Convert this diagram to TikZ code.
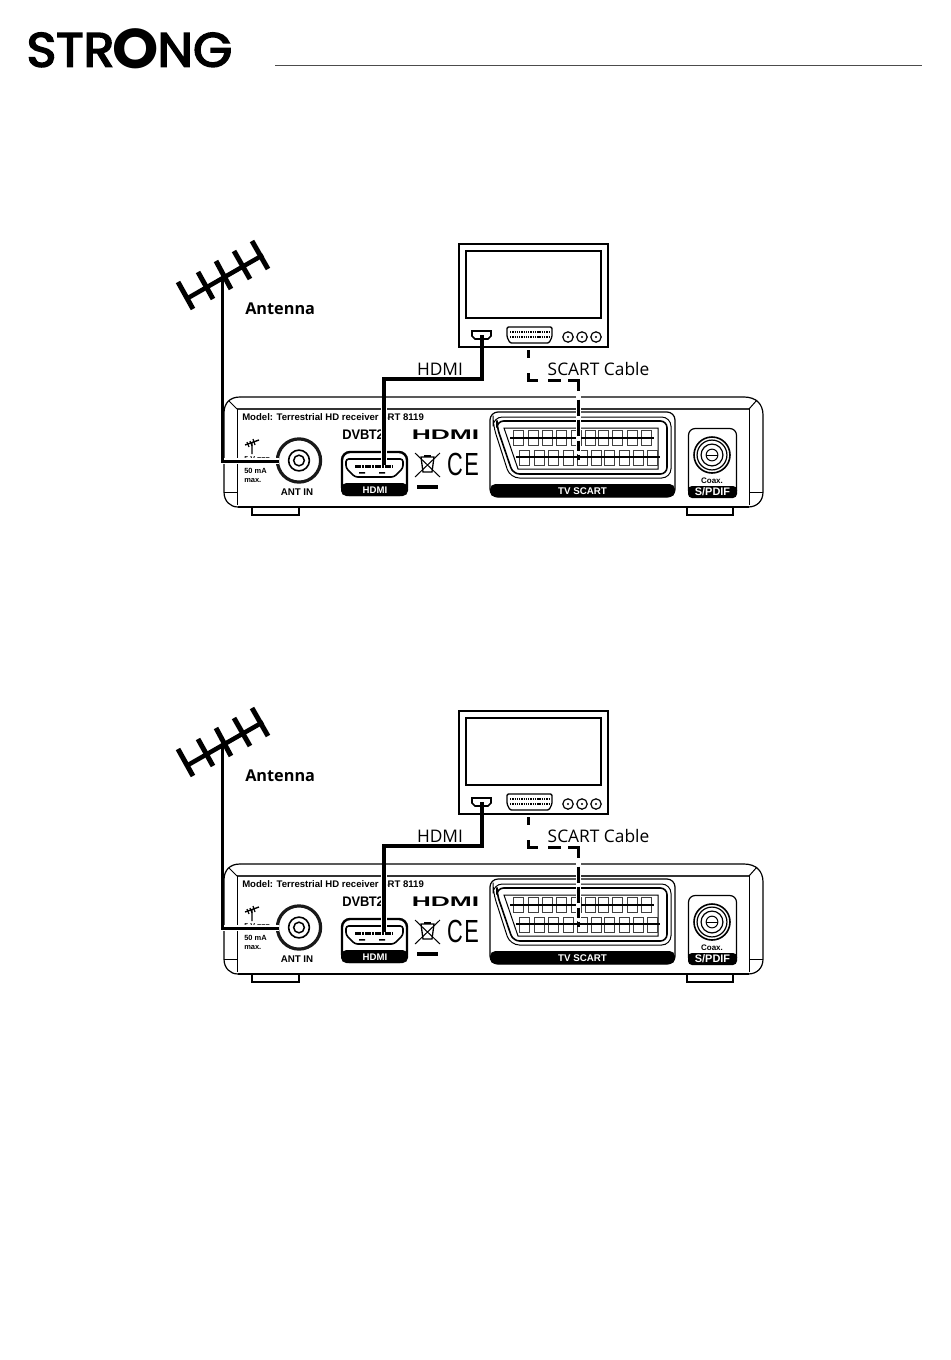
\documentclass[tikz,border=0pt]{standalone}
\usepackage{fontspec}
\setmainfont{Liberation Sans}
\newfontfamily\labelfont{Open Sans}
\newfontfamily\logofont[FakeBold=3.4]{Poppins}
\newfontfamily\logoring{Poppins}
\tikzset{
  px/.style={line width=#1*0.75pt},
  panel/.style={font=\bfseries\fontsize{6.3}{7}\selectfont,inner sep=0pt,text=black},
  bandtext/.style={font=\bfseries\fontsize{6.9}{8}\selectfont,inner sep=0pt,text=white},
  callout/.style={font=\labelfont\fontsize{13}{15}\selectfont,inner sep=0pt},
  cable/.style={draw=black,px=3.4,line cap=butt,line join=miter},
  halo/.style={draw=white,px=5.5},
  dashcable/.style={draw=black,px=3,dash pattern=on 6pt off 11.25pt on 12.75pt off 7.5pt on 9.75pt off 5.25pt on 15.75pt off 6.75pt on 12pt off 3pt on 12pt off 3.75pt on 7.5pt off 3pt on 6pt off 20pt},
  pin/.style={draw=black!75,px=1,fill=white},
  foot/.style={draw=black,px=1.2,fill=white},
  rig/.pic={
    % antenna
    \coordinate (boomA) at (188,298);
    \coordinate (boomB) at (263,255);
    \draw[px=4.5] (boomA) -- (boomB);
    \draw[px=5] (178,282)--(193,309) (198,272)--(213,299) (216,261)--(231,289) (234,251)--(250,279) (252,241)--(268,269);
    \node[callout,font=\labelfont\bfseries\fontsize{12.2}{15}\selectfont,anchor=west] (antlabel) at (245,308.5) {Antenna};
    % TV
    \draw[px=2] (459,244) rectangle (608,347);
    \draw[px=2] (466,251) rectangle (601,318);
    \draw[px=1.6] (472,331) -- (491,331) -- (491,336) -- (488,339) -- (475,339) -- (472,336) -- cycle;
    \draw[px=1.3,rounded corners=1pt] (507,327) -- (552,327) -- (552,337) -- (549,343) -- (510,343) -- (507,337) -- cycle;
    \draw[px=2.6,dash pattern=on 1pt off 0.7pt] (510,332)--(549,332) (510,337)--(549,337);
    \foreach \cx in {568,582,596}{
      \draw[px=1.2] (\cx,337) circle[radius=3.9pt];
      \fill (\cx,337) circle[radius=0.9pt];
    }
    % receiver body
    \draw[black!65,px=2.4] (240,397) -- (744,397);
    \draw[px=1.2] (240,397) .. controls (230,397) and (224,403) .. (224,413) -- (224,492) .. controls (224,501) and (230,507) .. (238,507);
    \draw[px=1.2] (744,397) .. controls (756,397) and (763,404) .. (763,415) -- (763,492) .. controls (763,501) and (757,507) .. (748,507);
    \draw[black!80,px=1.8] (237,409) -- (749,409);
    \draw[px=1] (237,409) -- (237,505) (749,409) -- (749,505);
    \draw[px=1] (229,401) -- (237,409) (757,400) -- (749,409);
    \draw[px=1] (224,492) -- (237,492) (749,492) -- (763,492);
    \draw[px=1.8] (238,507) -- (749,507);
    % feet
    \draw[foot] (252,508) -- (252,515) -- (299,515) -- (299,508);
    \draw[foot] (687,508) -- (687,515) -- (733,515) -- (733,508);
    % panel text
    \node[panel,anchor=west,font=\bfseries\fontsize{7.18}{8}\selectfont] (model) at (242,417) {Model: Terrestrial HD receiver SRT 8119};
    \node[panel,font=\bfseries\fontsize{5.4}{7}\selectfont] (fivev) at (257,459.5) {5 V ===};
    \node[panel,font=\bfseries\fontsize{5.6}{6.6}\selectfont,align=left,anchor=north west] (ma) at (244,468) {50 mA\\max.};
    \node[panel,font=\bfseries\fontsize{7.3}{8}\selectfont] (antin) at (297,492) {ANT IN};
    % small aerial icon
    \draw[px=1.4] (245,445)--(259,440) (252,443)--(252,454);
    \draw[px=1.2] (247,442)--(249,447) (250,441)--(252,446) (253,439)--(255,445);
    % ant socket
    \draw[px=3.2,black!90] (299,460.5) circle[radius=16.2pt];
    \draw[px=1.6] (299,460.5) circle[radius=7.8pt];
    \draw[px=1.5] (299,460.5) circle[radius=4pt];
    % DVB-T2
    \node[panel,font=\bfseries\fontsize{10.4}{12}\selectfont,anchor=west] (dvb) at (342,435) {\scalebox{.93}[1]{DVB\kern-.6pt T2}};
    % HDMI logo
    \node[panel,font=\bfseries\fontsize{11}{12}\selectfont] (hdmilogo) at (445.5,434.5) {\scalebox{1.8}[.95]{HDMI}};
    % HDMI port
    \draw[px=2.4,rounded corners=6pt] (342,452) rectangle (407,495);
    \fill[rounded corners=4pt] (341,483) -- (341,496) -- (408,496) -- (408,483) -- cycle;
    \node[bandtext,font=\bfseries\fontsize{7.2}{8}\selectfont] (hdmiband) at (375,490) {HDMI};
    \draw[px=1.6,rounded corners=2pt] (346,459) -- (403,459) -- (403,468) -- (394,477) -- (355,477) -- (346,468) -- cycle;
    \draw[px=3,dash pattern=on 2pt off .5pt] (355,466) -- (393,466);
    \fill (359,472) rectangle (365,473.5) (379,472) rectangle (385,473.5);
    % WEEE
    \draw[px=1.3] (421,457) -- (434,457) -- (432,472) -- (423,472) -- cycle;
    \draw[px=1] (415,453) -- (440,477) (440,453) -- (415,477);
    \fill (424,455) rectangle (431,457);
    \fill (417,485) rectangle (438,489);
    % CE
    \node[panel,font=\fontsize{24}{26}\selectfont] (ce) at (463,464) {\scalebox{.68}[1]{C\kern 1.5pt E}};
    % SCART
    \draw[px=1.2,rounded corners=6pt] (490,412) rectangle (675,497);
    \fill[rounded corners=4pt] (490,484) -- (490,497) -- (675,497) -- (675,484) -- cycle;
    \node[bandtext,font=\bfseries\fontsize{7.3}{8}\selectfont] (tvscart) at (582.5,491) {TV SCART};
    \draw[px=1,rounded corners=7pt] (493,417) -- (671,417) -- (671,478) -- (510,478) -- (493,425) -- cycle;
    \draw[px=1.6,rounded corners=5pt] (497,421) -- (667,421) -- (667,474) -- (513,474) -- (497,427) -- cycle;
    \draw[px=1] (504,428) -- (658,428) -- (658,469) -- (518,469) -- cycle;
    \foreach \cx in {518,533,547,561,576,590,603,617,632,646}{
      \draw[pin] (\cx-5,430) rectangle (\cx+5,445);
      \draw[px=1.4] (\cx-8,438) -- (\cx+8,438);
    }
    \foreach \cx in {524,539,553,568,582,596,609,624,638,652}{
      \draw[pin] (\cx-5,450) rectangle (\cx+5,465);
      \draw[px=1.4] (\cx-8,457) -- (\cx+8,457);
    }
    % SPDIF
    \draw[px=1.2,rounded corners=5pt] (688.5,428.5) rectangle (736.5,497);
    \fill[rounded corners=3pt] (688,486) -- (688,498) -- (737,498) -- (737,486) -- cycle;
    \node[bandtext,font=\bfseries\fontsize{8.2}{10}\selectfont] (spdif) at (712.5,492) {S/PDIF};
    \node[panel,font=\bfseries\fontsize{6}{7}\selectfont] (coax) at (712,480.5) {Coax.};
    \draw[px=1.6] (712,455) circle[radius=13.5pt];
    \draw[px=1.2] (712,455) circle[radius=11.2pt];
    \draw[px=1.2] (712,455) circle[radius=8.2pt];
    \draw[px=1] (712,455) circle[radius=4.4pt];
    \draw[px=1] (706,455) -- (718,455);
    % connector ends
    \coordinate (tvhdmi) at (482,335);
    \coordinate (hdmibendA) at (482,379);
    \coordinate (hdmibendB) at (384,379);
    \coordinate (boxhdmi) at (384,465);
    \coordinate (mastTop) at (222,278);
    \coordinate (mastFoot) at (222,461);
    \coordinate (antsocket) at (279,461);
    \coordinate (tvscartport) at (528,350);
    \coordinate (scartbendA) at (528,380);
    \coordinate (scartbendB) at (578.5,380);
    \coordinate (boxscart) at (578.5,460);
    % halos and cables
    \draw[halo,px=6] (mastFoot) -- (antsocket);
    \draw[halo] (384,398) -- (boxhdmi);
    \draw[cable] (tvhdmi) -- (hdmibendA) -- (hdmibendB) -- (boxhdmi);
    \draw[halo] (578.5,396) -- (578.5,454);
    \draw[dashcable] (tvscartport) -- (scartbendA) -- (scartbendB) -- (boxscart);
    \draw[cable,px=3] (mastTop) -- (mastFoot) -- (antsocket);
    \node[callout] (hdmilabel) at (440,369) {HDMI};
    \node[callout] (scartlabel) at (598.5,369) {SCART Cable};
  }
}
\begin{document}
\begin{tikzpicture}[x=0.75pt,y=-0.75pt]
  \useasboundingbox (0,0) rectangle (950,1360);
  \fill[white] (0,0) rectangle (950,1360);
  \node[inner sep=0pt,anchor=center] (logo) at (129.5,49) {\logofont\fontsize{36}{38}\selectfont\scalebox{1.05}[1]{STR\kern-1pt\raisebox{-1.6pt}{\logoring\bfseries\fontsize{42}{44}\selectfont O}\kern-1pt NG}};
  \coordinate (ruleA) at (275,65);
  \coordinate (ruleB) at (922,65);
  \draw[black!70,px=1] (ruleA) -- (ruleB);
  \pic (first) at (0,0) {rig};
  \pic (second) at (0,467) {rig};
\end{tikzpicture}
\end{document}
